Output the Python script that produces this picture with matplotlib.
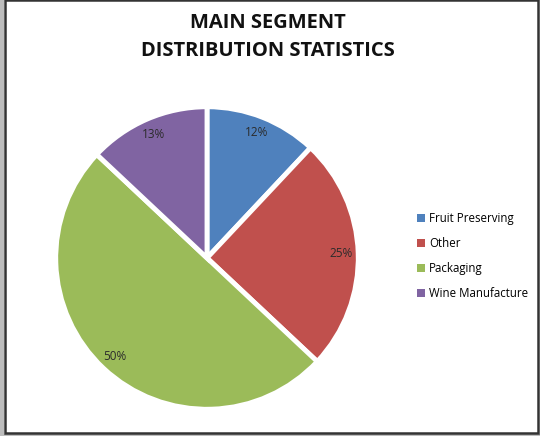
import matplotlib
matplotlib.use("Agg")
import matplotlib.pyplot as plt
from matplotlib.patches import Rectangle

categories = ["Fruit Preserving", "Other", "Packaging", "Wine Manufacture"]
values = [12, 25, 50, 13]
colors = ["#4F81BD", "#C0504D", "#9BBB59", "#8064A2"]
title = "MAIN SEGMENT\nDISTRIBUTION STATISTICS"

W, H = 540, 436
fig = plt.figure(figsize=(W / 100, H / 100), dpi=100)
fig.patch.set_facecolor("white")

# outer frame / screenshot edges
fig.patches.append(Rectangle((0, 0), 4 / W, 1, transform=fig.transFigure,
                             facecolor="#bdbdbd", edgecolor="none", zorder=0))
fig.patches.append(Rectangle((0, 0), 1, 2 / H, transform=fig.transFigure,
                             facecolor="#bdbdbd", edgecolor="none", zorder=0))
fig.patches.append(Rectangle((5 / W, 3 / H), (533 / W), (433 / H), transform=fig.transFigure,
                             facecolor="none", edgecolor="#333333", linewidth=1.8, zorder=1))

cx, cy, r = 207, H - 258, 152
ax = fig.add_axes([(cx - r) / W, (cy - r) / H, 2 * r / W, 2 * r / H])
wedges, texts, autotexts = ax.pie(
    values, colors=colors, startangle=90, counterclock=False,
    autopct=lambda p: f"{p:.0f}%", pctdistance=0.89,
    wedgeprops=dict(edgecolor="white", linewidth=3.5),
    textprops=dict(fontsize=8.5, color="#2b2b2b", family="Open Sans"),
)
ax.set_xlim(-1.005, 1.005)
ax.set_ylim(-1.005, 1.005)
ax.set_aspect("equal")
ax.axis("off")

fig.text(268 / W, 1 - 37 / H, title, ha="center", va="center", fontsize=14.5,
         fontweight="bold", family="Open Sans", color="#111111", linespacing=1.6)

leg = fig.legend(wedges, categories, loc="center left", bbox_to_anchor=(407 / W, 1 - 256 / H),
                 frameon=False, handlelength=0.7, handleheight=0.7,
                 handletextpad=0.3, labelspacing=1.05,
                 prop=dict(family="Open Sans", size=8.3))
for h in leg.legend_handles:
    h.set_edgecolor("none")

fig.savefig("out.png", dpi=100, facecolor="white")
